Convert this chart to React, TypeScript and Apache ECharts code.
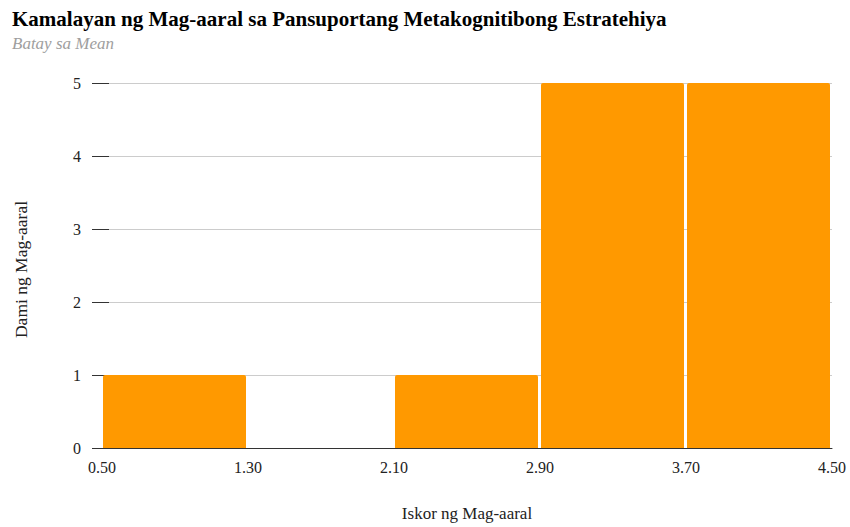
import React, { useEffect, useRef } from "react";
import * as echarts from "echarts";

const titleText = "Kamalayan ng Mag-aaral sa Pansuportang Metakognitibong Estratehiya";
const subtitleText = "Batay sa Mean";
const xAxisName = "Iskor ng Mag-aaral";
const yAxisName = "Dami ng Mag-aaral";

const binStarts = [0.5, 1.3, 2.1, 2.9, 3.7];
const binEnds = [1.3, 2.1, 2.9, 3.7, 4.5];
const counts = [1, 0, 1, 5, 5];
const xTickValues = [0.5, 1.3, 2.1, 2.9, 3.7, 4.5];

const FONT = "'Liberation Serif', 'Times New Roman', serif";

export default function App() {
  const ref = useRef<HTMLDivElement>(null);
  useEffect(() => {
    if (!ref.current) return;
    const chart = echarts.init(ref.current, undefined, { renderer: "svg" });
    const data = binStarts.map((s, i) => [s, binEnds[i], counts[i]]);
    chart.setOption({
      animation: false,
      backgroundColor: "#ffffff",
      title: {
        text: titleText,
        subtext: subtitleText,
        left: 12,
        top: 8,
        itemGap: 6,
        textStyle: { fontFamily: FONT, fontWeight: "bold", fontSize: 21, color: "#000" },
        subtextStyle: { fontFamily: FONT, fontStyle: "italic", fontSize: 17, color: "#9e9e9e" },
        padding: 0,
      },
      grid: { left: 102, right: 18, top: 83, bottom: 79, containLabel: false },
      xAxis: {
        type: "value",
        min: 0.5,
        max: 4.5,
        name: xAxisName,
        nameLocation: "middle",
        nameGap: 57,
        nameTextStyle: { fontFamily: FONT, fontSize: 17, color: "#222" },
        splitLine: { show: false },
        axisTick: { show: false },
        axisLine: { show: true, lineStyle: { color: "#333", width: 1 } },
        axisLabel: {
          customValues: xTickValues,
          formatter: (v: number) => v.toFixed(2),
          margin: 11,
          fontFamily: FONT,
          fontSize: 16,
          color: "#222",
        },
      },
      yAxis: [
        {
          type: "value",
          min: 0,
          max: 5,
          interval: 1,
          name: yAxisName,
          nameLocation: "middle",
          nameGap: 72,
          nameTextStyle: { fontFamily: FONT, fontSize: 17.5, color: "#222", padding: [0, 0, 0, -8] },
          axisLine: { show: false },
          axisTick: { show: true, length: 10, lineStyle: { color: "#333" } },
          splitLine: { show: true, lineStyle: { color: "#cccccc", width: 1 } },
          axisLabel: { margin: 21, fontFamily: FONT, fontSize: 16, color: "#222" },
        },
        {
          type: "value",
          min: 0,
          max: 5,
          interval: 1,
          position: "left",
          axisLine: { show: false },
          axisTick: { show: true, inside: true, length: 7, lineStyle: { color: "#333" } },
          splitLine: { show: false },
          axisLabel: { show: false },
        },
      ],
      series: [
        {
          type: "custom",
          data,
          encode: { x: [0, 1], y: 2 },
          renderItem: (params: any, api: any) => {
            const s = api.value(0);
            const e = api.value(1);
            const c = api.value(2);
            if (!c) return null;
            const p0 = api.coord([s, c]);
            const p1 = api.coord([e, 0]);
            return {
              type: "rect",
              shape: {
                x: p0[0] + 1,
                y: p0[1],
                width: p1[0] - p0[0] - 3,
                height: p1[1] - p0[1],
                r: [2, 2, 0, 0],
              },
              style: { fill: "#ff9900" },
            };
          },
        },
      ],
    });
    return () => chart.dispose();
  }, []);
  return <div ref={ref} style={{ width: 850, height: 527, position: "absolute", left: 0, top: 0 }} />;
}
